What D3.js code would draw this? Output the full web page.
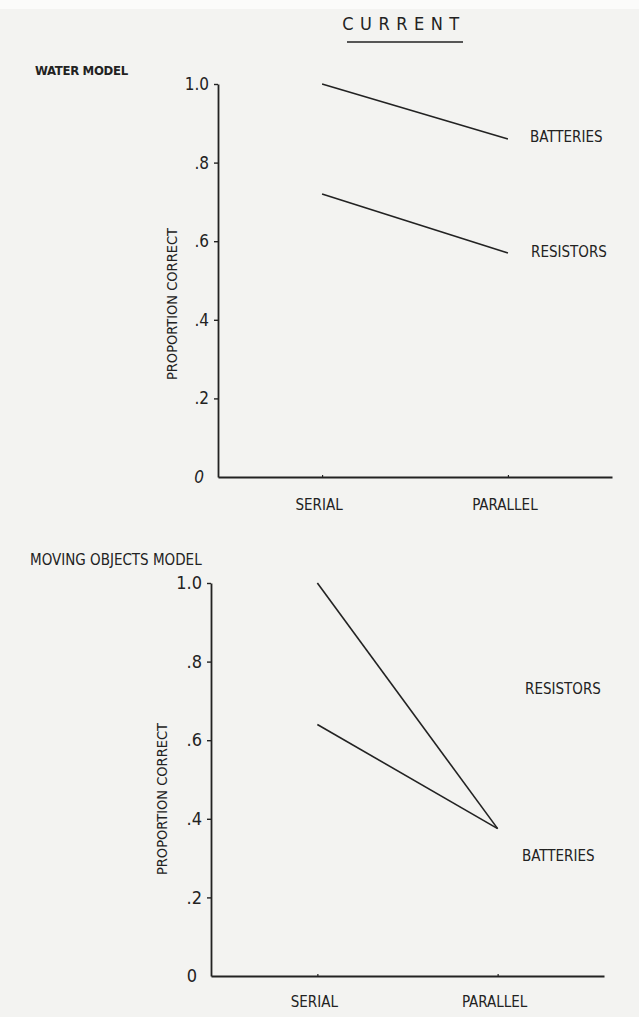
<!DOCTYPE html>
<html><head><meta charset="utf-8">
<script src="https://cdn.jsdelivr.net/npm/d3@7/dist/d3.min.js"></script>
<style>
html,body{margin:0;padding:0;background:#f3f3f1;}
svg{display:block;}
text{font-family:"DejaVu Sans Condensed","DejaVu Sans",sans-serif;fill:#222;}
</style></head>
<body>
<script>
// ---- data ----
const categories = ["SERIAL", "PARALLEL"];
const yTickValues = [0, 0.2, 0.4, 0.6, 0.8, 1.0];
const yTickLabels = ["0", ".2", ".4", ".6", ".8", "1.0"];
const title = "CURRENT";
const panelTitles = ["WATER MODEL", "MOVING OBJECTS MODEL"];
const yAxisTitle = "PROPORTION CORRECT";
// Water model
const waterBatteries = [1.0, 0.86];
const waterResistors = [0.72, 0.57];
// Moving objects model
const movingBatteries = [1.0, 0.375];
const movingResistors = [0.64, 0.375];
const seriesNames = ["BATTERIES", "RESISTORS"];

const W = 639, H = 1017;
const svg = d3.select("body").append("svg").attr("width", W).attr("height", H);
svg.append("rect").attr("width", W).attr("height", H).attr("fill", "#f3f3f1");
svg.append("rect").attr("width", W).attr("height", 9).attr("fill", "#fbfbfa");

// title
svg.append("text").attr("x", 404).attr("y", 30).attr("text-anchor", "middle")
  .style("font-size", "18px").style("letter-spacing", "6.5px").text(title);
svg.append("line").attr("x1", 347).attr("x2", 463).attr("y1", 42).attr("y2", 42)
  .attr("stroke", "#222").attr("stroke-width", 1.6);

const panels = [
  {name: panelTitles[0], nameX: 35, nameY: 75, bold: true,
   xr: [218, 612], pad: 0.56, yr: [477, 84], series: [waterBatteries, waterResistors],
   labels: [{text: seriesNames[0], x: 530, y: 142}, {text: seriesNames[1], x: 531, y: 257}],
   yTitleX: 177, yTitleY: 304, tickSize: 17, zeroItalic: true, xLabelY: 510},
  {name: panelTitles[1], nameX: 30, nameY: 565, bold: false,
   xr: [211, 604], pad: 0.59, yr: [976, 583], series: [movingBatteries, movingResistors],
   labels: [{text: seriesNames[1], x: 525, y: 694}, {text: seriesNames[0], x: 522, y: 861}],
   yTitleX: 167, yTitleY: 799, tickSize: 18, zeroItalic: false, xLabelY: 1007}
];

panels.forEach(p => {
  const x = d3.scalePoint().domain(categories).range(p.xr).padding(p.pad);
  const y = d3.scaleLinear().domain([0, 1]).range(p.yr);
  const g = svg.append("g");

  g.append("text").attr("x", p.nameX).attr("y", p.nameY)
    .style("font-size", p.bold ? "13px" : "15px")
    .style("font-weight", p.bold ? "bold" : "normal")
    .style("letter-spacing", p.bold ? "-0.3px" : "0px")
    .text(p.name);

  // y axis
  const yAxis = d3.axisLeft(y).tickValues(yTickValues)
    .tickFormat((d, i) => yTickLabels[i]).tickSize(4).tickSizeOuter(0).tickPadding(5);
  const ya = g.append("g").attr("transform", `translate(${p.xr[0]},0)`).call(yAxis);
  ya.select(".domain").attr("stroke", "#222").attr("stroke-width", 1.8);
  ya.selectAll(".tick line").attr("stroke", "#222").attr("stroke-width", 1.4);
  ya.selectAll(".tick text").attr("fill", "#222")
    .style("font-family", "'DejaVu Sans Condensed','DejaVu Sans',sans-serif")
    .style("font-size", p.tickSize + "px")
    .style("font-style", (d) => (d === 0 && p.zeroItalic) ? "italic" : "normal");
  ya.selectAll(".tick").filter(d => d === 0).select("line").remove();
  ya.selectAll(".tick").filter(d => d === 0).select("text").attr("x", -14);

  // x axis
  const xAxis = d3.axisBottom(x).tickSize(3).tickSizeOuter(0).tickFormat(() => "");
  const xa = g.append("g").attr("transform", `translate(0,${p.yr[0]})`).call(xAxis);
  xa.select(".domain").attr("stroke", "#222").attr("stroke-width", 1.8);
  xa.selectAll(".tick line").attr("stroke", "#222").attr("stroke-width", 1.2).attr("y1", -2).attr("y2", 1);

  g.selectAll(".xlab").data(categories).join("text")
    .attr("x", d => x(d) - 3).attr("y", p.xLabelY).attr("text-anchor", "middle")
    .style("font-size", "15px").text(d => d);

  // y title
  g.append("text").attr("transform", `translate(${p.yTitleX},${p.yTitleY}) rotate(-90)`)
    .attr("text-anchor", "middle").style("font-size", "14.5px").text(yAxisTitle);

  // lines
  const line = d3.line().x((d, i) => x(categories[i])).y(d => y(d));
  p.series.forEach(s => {
    g.append("path").datum(s).attr("d", line).attr("fill", "none")
      .attr("stroke", "#222").attr("stroke-width", 1.6);
  });

  p.labels.forEach(l => {
    g.append("text").attr("x", l.x).attr("y", l.y).style("font-size", "15px").text(l.text);
  });
});
</script>
</body></html>
